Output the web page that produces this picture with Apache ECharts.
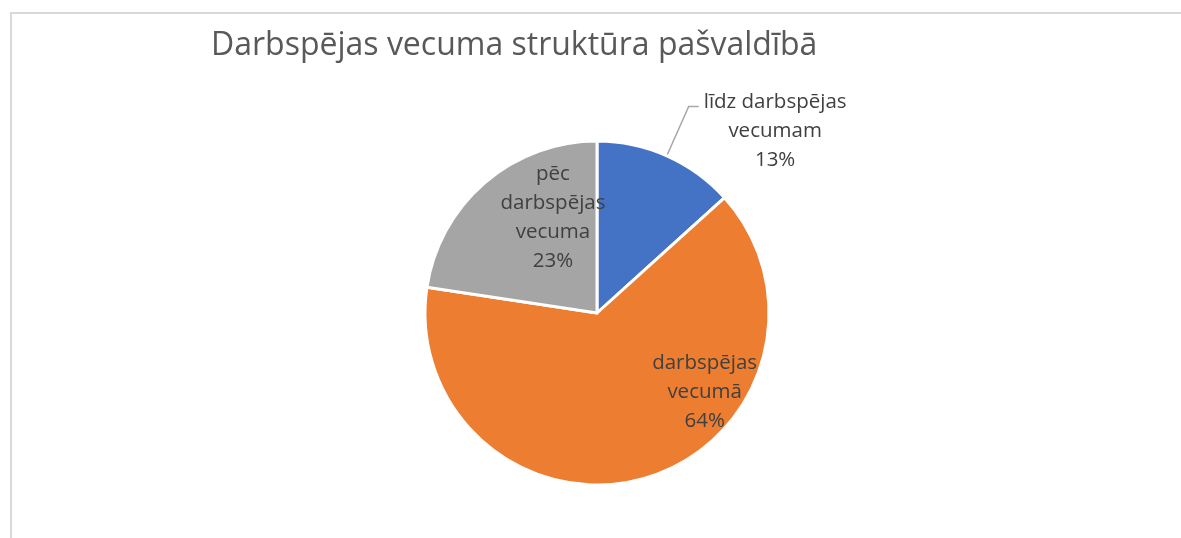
<!DOCTYPE html>
<html>
<head>
<meta charset="utf-8">
<script src="https://cdn.jsdelivr.net/npm/echarts@6/dist/echarts.min.js"></script>
<style>
  html, body { margin: 0; padding: 0; background: #fff; }
  #frame {
    position: absolute; left: 10px; top: 12px; width: 1200px; height: 560px;
    border-left: 2px solid #d9d9d9; border-top: 2px solid #d9d9d9;
  }
  #chart { position: absolute; left: 0; top: 0; width: 1181px; height: 538px; }
</style>
</head>
<body>
<div id="frame"></div>
<div id="chart"></div>
<script>
const titleText = 'Darbspējas vecuma struktūra pašvaldībā'
const categories = ['līdz darbspējas vecumam', 'darbspējas vecumā', 'pēc darbspējas vecuma']
const labelLines = [
  ['līdz darbspējas', 'vecumam'],
  ['darbspējas', 'vecumā'],
  ['pēc', 'darbspējas', 'vecuma'],
]
const values = [13.3, 64.1, 22.6]
const colors = ['#4472C4', '#ED7D31', '#A5A5A5']

const chart = echarts.init(document.getElementById('chart'))

const fontFamily = '"Open Sans", Lato, sans-serif'
const labelStyle = {
  fontFamily,
  fontSize: 20.5,
  lineHeight: 29,
  color: '#404040',
}

// per-slice label placement, Excel puts the labels off the default spots
const labelTweaks = [
  { position: 'outside', padding: [50, 0, 0, 0] },
  { position: 'inside', offset: [82, -6] },
  { position: 'inside', offset: [14, -28] },
]

chart.setOption({
  backgroundColor: 'transparent',
  title: {
    text: titleText,
    left: 206,
    top: 25,
    textStyle: { fontFamily, fontSize: 32, fontWeight: 'normal', color: '#595959' },
  },
  series: [
    {
      type: 'pie',
      center: [597, 313],
      radius: 172,
      startAngle: 90,
      clockwise: true,
      avoidLabelOverlap: false,
      percentPrecision: 0,
      itemStyle: { borderColor: '#fff', borderWidth: 3 },
      labelLine: {
        show: true,
        length: 54,
        length2: 10,
        lineStyle: { color: '#a6a6a6', width: 1.5 },
      },
      label: {
        ...labelStyle,
        formatter: (p) =>
          [...labelLines[p.dataIndex], Math.round(p.percent) + '%'].map((s) => '{c|' + s + '}').join('\n'),
        rich: { c: { ...labelStyle, align: 'center' } },
      },
      data: categories.map((name, i) => ({
        name,
        value: values[i],
        itemStyle: { color: colors[i] },
        label: labelTweaks[i],
        labelLine: { show: i === 0 },
      })),
    },
  ],
})
</script>
</body>
</html>
